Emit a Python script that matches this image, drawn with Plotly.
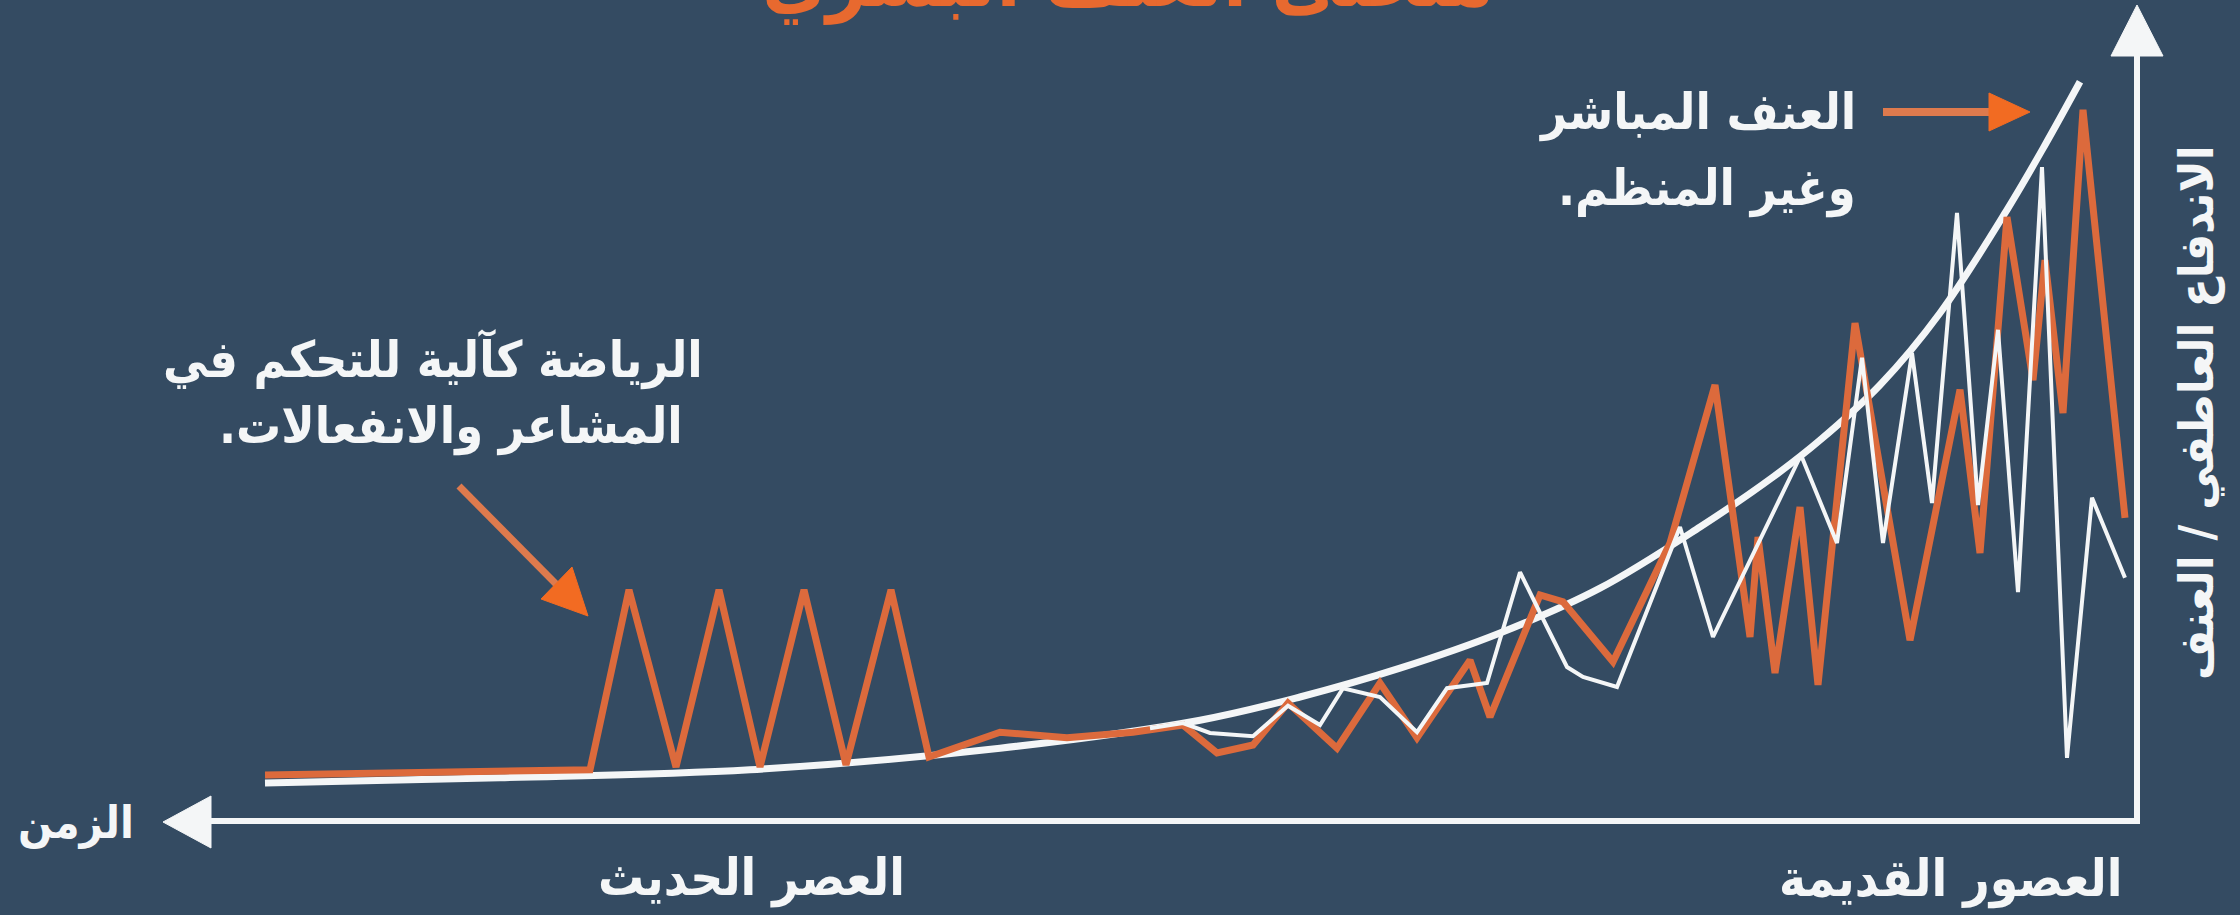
import plotly.graph_objects as go

W, H = 2240, 915

# ---------------- data ----------------
# x: time position (0 = ancient ages, at the right; grows toward the modern era, at the left)
# y: emotional impulsiveness / violence level (0-100)
orange_x = [93.6, 77.35, 75.4, 73.05, 70.9, 68.85, 66.65, 64.55, 62.3, 60.4, 56.85, 53.5,
            50.2, 47.7, 46.0, 44.2, 42.45, 40.0, 37.85, 36.0, 33.35, 32.35, 29.85, 28.7,
            26.2, 23.35, 21.1, 19.35, 18.95, 18.1, 16.85, 15.95, 14.1, 11.35, 8.85, 7.85,
            6.5, 5.2, 4.6, 3.7, 2.7, 0.6]
orange_y = [5.75, 6.4, 28.9, 6.75, 28.9, 6.75, 28.9, 7.0, 28.9, 8.0, 11.1, 10.4,
            11.1, 12.0, 8.5, 9.5, 14.75, 9.1, 17.25, 10.4, 20.1, 13.0, 28.25, 27.4,
            19.9, 34.75, 54.5, 23.0, 35.5, 18.5, 39.25, 17.0, 62.25, 22.6, 53.9, 33.5,
            75.5, 55.1, 70.1, 51.0, 88.9, 37.9]

white_x = [49.35, 47.7, 46.35, 44.2, 42.45, 40.85, 39.7, 37.85, 36.0, 34.5, 32.5, 30.85,
           29.5, 28.5, 27.7, 26.0, 22.85, 21.2, 16.8, 15.0, 13.75, 12.7, 11.25, 10.25,
           9.0, 7.95, 6.95, 5.95, 4.75, 3.5, 2.25, 0.6]
white_y = [11.6, 12.25, 11.0, 10.6, 14.4, 12.0, 16.6, 15.5, 11.1, 16.6, 17.25, 31.1,
           24.25, 19.25, 18.0, 16.75, 36.75, 23.0, 45.75, 34.75, 57.9, 34.75, 58.5, 39.75,
           76.0, 39.5, 61.4, 28.6, 81.75, 7.9, 40.4, 30.4]

trend_x = [93.6, 81.85, 69.35, 56.85, 46.85, 41.85, 36.85, 31.85, 26.85, 21.85, 18.2,
           15.85, 12.85, 9.85, 6.5, 4.6, 2.85]
trend_y = [4.75, 5.4, 6.4, 9.1, 12.6, 15.5, 19.1, 23.5, 29.1, 36.75, 43.0,
           47.6, 54.5, 63.5, 76.4, 84.5, 92.4]

RLM = "\u200f"
title_text = "منحنى العنف البشري"
note_right_lines = ["العنف المباشر", "وغير المنظم." + RLM]
note_left_lines = ["الرياضة كآلية للتحكم في", "المشاعر والانفعالات." + RLM]
x_title = "الزمن"
x_label_modern = "العصر الحديث"
x_label_ancient = "العصور القديمة"
y_title = "الاندفاع العاطفي / العنف"

# ---------------- styling ----------------
BG = "#344b62"
ORANGE = "#dc6a3c"
ORANGE_ARROW = "#de7a4d"
ORANGE_HEAD = "#f26b22"
WHITE = "#f4f6f7"
FONT = "DejaVu Sans Condensed, DejaVu Sans"

# plot area fills the whole canvas; these helpers place decorations by pixel
X_RANGE = [2137 / 20, (2137 - W) / 20]
Y_RANGE = [(821 - H) / 8, 821 / 8]


def dx(px):
    return (2137 - px) / 20


def dy(py):
    return (821 - py) / 8


fig = go.Figure()

fig.add_trace(go.Scatter(x=trend_x, y=trend_y, mode="lines",
                         line=dict(color=WHITE, width=7, shape="spline", smoothing=1.0),
                         hoverinfo="skip", showlegend=False))
fig.add_trace(go.Scatter(x=orange_x, y=orange_y, mode="lines",
                         line=dict(color=ORANGE, width=7),
                         hoverinfo="skip", showlegend=False))
fig.add_trace(go.Scatter(x=white_x, y=white_y, mode="lines",
                         line=dict(color=WHITE, width=4),
                         hoverinfo="skip", showlegend=False))

shapes = []
# axes lines
shapes.append(dict(type="line", xref="x", yref="y", x0=dx(2137), y0=dy(821), x1=dx(205), y1=dy(821),
                   line=dict(color=WHITE, width=6)))
shapes.append(dict(type="line", xref="x", yref="y", x0=dx(2137), y0=dy(824), x1=dx(2137), y1=dy(50),
                   line=dict(color=WHITE, width=6)))


def tri(p1, p2, p3, color):
    path = "M {} {} L {} {} L {} {} Z".format(dx(p1[0]), dy(p1[1]), dx(p2[0]), dy(p2[1]),
                                              dx(p3[0]), dy(p3[1]))
    return dict(type="path", xref="x", yref="y", path=path, fillcolor=color,
                line=dict(color=color, width=1))


# axis arrowheads
shapes.append(tri((163, 822), (211, 796), (211, 848), WHITE))
shapes.append(tri((2137, 5), (2111, 56), (2163, 56), WHITE))

# annotation arrows
shapes.append(dict(type="line", xref="x", yref="y", x0=dx(1883), y0=dy(112), x1=dx(1992), y1=dy(112),
                   line=dict(color=ORANGE_ARROW, width=8)))
shapes.append(tri((2030, 112), (1989, 93), (1989, 131), ORANGE_HEAD))
shapes.append(dict(type="line", xref="x", yref="y", x0=dx(459), y0=dy(486), x1=dx(557), y1=dy(585),
                   line=dict(color=ORANGE_ARROW, width=7)))
shapes.append(tri((588, 616), (541, 599), (572, 567), ORANGE_HEAD))


def label(text, px, py, size, xanchor="center", angle=0, color=WHITE, ref="data"):
    if ref == "data":
        pos = dict(x=dx(px), y=dy(py), xref="x", yref="y")
    else:
        pos = dict(x=px / W, y=1 - py / H, xref="paper", yref="paper")
    return dict(text=text, xanchor=xanchor, yanchor="middle", textangle=angle,
                showarrow=False, font=dict(family=FONT, size=size, color=color, weight="bold"),
                **pos)


annotations = [
    label(title_text, 1128, -20, 78, color="#e8692f", ref="paper"),
    label(note_right_lines[0], 1858, 112, 50, xanchor="right"),
    label(note_right_lines[1], 1858, 188, 50, xanchor="right"),
    label(note_left_lines[0], 433, 359, 50),
    label(note_left_lines[1], 451, 426, 50),
    label(x_title, 76, 822, 45),
    label(x_label_modern, 751, 878, 51),
    label(x_label_ancient, 1950, 879, 51),
    label(y_title, 2196, 413, 48, angle=-90),
]

fig.update_layout(
    width=W, height=H,
    margin=dict(l=0, r=0, t=0, b=0, pad=0),
    paper_bgcolor=BG, plot_bgcolor=BG,
    showlegend=False,
    xaxis=dict(range=X_RANGE, visible=False, fixedrange=True),
    yaxis=dict(range=Y_RANGE, visible=False, fixedrange=True),
    shapes=shapes,
    annotations=annotations,
)

fig.write_html("out.html", config={"displayModeBar": False},
               post_script="document.body.style.margin='0';document.body.style.overflow='hidden';")
